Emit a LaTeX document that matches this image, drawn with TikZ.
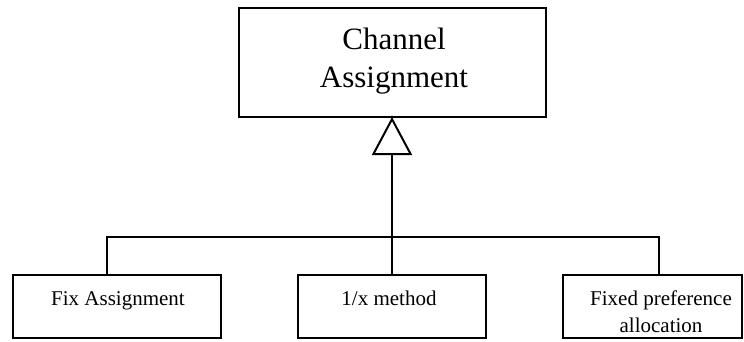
\documentclass[tikz,border=0pt]{standalone}
\usepackage{fontspec}
\setmainfont{Liberation Serif}
\usetikzlibrary{arrows.meta}

\begin{document}
\begin{tikzpicture}[x=1pt,y=-1pt,
  every node/.style={inner sep=0pt, outer sep=0pt},
  box/.style={draw, line width=2pt, rectangle},
  conn/.style={line width=2pt},
  bigtext/.style={font=\fontsize{31}{38}\selectfont, align=center},
  smalltext/.style={font=\fontsize{21}{27}\selectfont, align=center, anchor=base}
]
\useasboundingbox (0,0) rectangle (744,341);

% superclass
\node[box, minimum width=307pt, minimum height=109pt] (parent) at (392,62.5) {};
\node[bigtext] (parenttext) at (394,61) {Channel\\Assignment};

% subclasses
\node[box, minimum width=208pt, minimum height=63pt] (fix) at (117,306.5) {};
\node[box, minimum width=188pt, minimum height=63pt] (inv) at (392,306.5) {};
\node[box, minimum width=179pt, minimum height=63pt] (pref) at (652.5,306.5) {};

% labels sit on their baselines (last line for the two-line label)
\node[smalltext] (fixtext) at (118,305) {Fix Assignment};
\node[smalltext] (invtext) at (389,305) {1/x method};
\node[smalltext] (preftext) at (661,332) {Fixed preference\\allocation};

% generalisation bus
\coordinate (busL) at (107,237);
\coordinate (busR) at (659,237);
\draw[conn] (fix.north -| busL) -- (busL) -- (busR) -- (pref.north -| busR);
\draw[conn, -{Triangle[open, length=38pt, width=40pt, line width=2pt]}]
  (inv.north) -- (parent.south);
\end{tikzpicture}
\end{document}
